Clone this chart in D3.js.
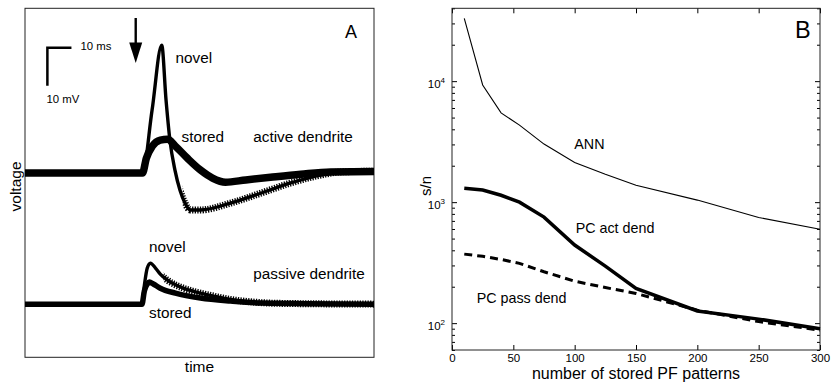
<!DOCTYPE html>
<html>
<head>
<meta charset="utf-8">
<script src="https://cdn.jsdelivr.net/npm/d3@7"></script>
<style>
  body { margin: 0; background: #fff; }
  svg text { font-family: "Liberation Sans", Arial, Helvetica, sans-serif; fill: #000; }
</style>
</head>
<body>
<svg id="chart" width="831" height="382"></svg>
<script>
// ---- panel A: voltage traces, [time ms, voltage mV] (passive traces recorded ~34.5 mV lower)
const activeNovel = [[0,0],[48.8,0],[52.8,16.6],[56.8,33.7],[58.6,19.2],[60.2,8.7],[62.3,0.8],[64.4,-4.5],
  [66.5,-7.9],[68.6,-9.7],[72.9,-9.7],[85.4,-7.9],[97.9,-5.3],[110.4,-2.6],[120.8,-0.8],[131,0.3],[145,0.5]];
const activeStored = [[0,0],[48.8,0],[50.4,3.9],[52.9,7.1],[56.2,8.7],[59.2,8.9],[62.5,7.1],[67.5,3.9],
  [72.9,0.8],[77.9,-1.3],[83.3,-2.4],[91.7,-1.8],[102,-1.1],[114.6,-0.3],[127,0.3],[145,0.4]];
const passiveNovel = [[0,-34.5],[48.6,-34.5],[49.6,-29.5],[50.8,-25],[52.1,-23.7],[54.2,-25],[56.2,-26.6],
  [59.2,-28.2],[65.8,-30.3],[72.9,-31.6],[80,-32.6],[86.7,-33.4],[93.8,-33.9],[106,-34.3],[145,-34.5]];
const passiveStored = [[0,-34.5],[48.6,-34.5],[49.6,-31],[50.8,-29.2],[51.7,-28.7],[53.3,-29.2],[56.2,-30.3],
  [62.5,-31.6],[72.9,-32.9],[85.4,-33.7],[97.9,-34.2],[145,-34.5]];
const stimTime = 46;

// ---- panel B: signal-to-noise vs number of stored PF patterns
const patterns = [10, 25, 40, 55, 75, 100, 125, 150, 200, 250, 300];
const annSN = [33000, 9300, 5470, 4330, 3020, 2130, 1700, 1380, 1040, 746, 598];
const pcActSN = [1300, 1260, 1140, 1000, 752, 442, 296, 194, 126, 108, 90];
const pcPassSN = [372, 357, 336, 312, 266, 222, 197, 176, 128, 103, 87.5];
const xTicks = [0, 50, 100, 150, 200, 250, 300];
const yMajor = [100, 1000, 10000];

const svg = d3.select('#chart');
const defs = svg.append('defs');

// ===================== panel A =====================
const ax = d3.scaleLinear().domain([0, 145]).range([25, 374]);
const ay = d3.scaleLinear().domain([-48.5, 43.4]).range([357.3, 8.3]);
const gA = svg.append('g');

gA.append('rect')
  .attr('x', 25).attr('y', 8.3)
  .attr('width', 349).attr('height', 349)
  .attr('fill', 'none').attr('stroke', '#222').attr('stroke-width', 1);

const traceLine = d3.line().x(d => ax(d[0])).y(d => ay(d[1])).curve(d3.curveMonotoneX);

// the hatched look of the novel sweeps only shows where the decay is slow
function hatchClip(id, fromT) {
  defs.append('clipPath').attr('id', id)
    .append('rect').attr('x', ax(fromT)).attr('y', 0)
    .attr('width', ax(145) - ax(fromT)).attr('height', 382);
  return `url(#${id})`;
}

[[activeNovel, 65.5, 'clipAct'], [passiveNovel, 57.5, 'clipPass']].forEach(([tr, t0, id]) => {
  gA.append('path').datum(tr).attr('d', traceLine)
    .attr('fill', 'none').attr('stroke', '#000').attr('stroke-width', 3.4)
    .attr('stroke-linejoin', 'round');
  gA.append('path').datum(tr).attr('d', traceLine)
    .attr('clip-path', hatchClip(id, t0))
    .attr('fill', 'none').attr('stroke', '#000').attr('stroke-width', 7)
    .attr('stroke-dasharray', '1.3,1.3');
});
// stored traces: solid thick band
gA.append('path').datum(activeStored).attr('d', traceLine)
  .attr('fill', 'none').attr('stroke', '#000').attr('stroke-width', 7.5);
gA.append('path').datum(passiveStored).attr('d', traceLine)
  .attr('fill', 'none').attr('stroke', '#000').attr('stroke-width', 5.5);

// stimulus arrow
const arrowX = ax(stimTime);
gA.append('line')
  .attr('x1', arrowX).attr('x2', arrowX).attr('y1', 18).attr('y2', 46)
  .attr('stroke', '#000').attr('stroke-width', 2.4);
gA.append('path')
  .attr('d', `M${arrowX - 6.5},42.5 L${arrowX + 6.5},42.5 L${arrowX},63 Z`)
  .attr('fill', '#000');

// scale bar 10 ms / 10 mV
const sbT = 9.3, sbV = 33;
gA.append('path')
  .attr('d', `M${ax(sbT + 10)},${ay(sbV)} L${ax(sbT)},${ay(sbV)} L${ax(sbT)},${ay(sbV - 10)}`)
  .attr('fill', 'none').attr('stroke', '#000').attr('stroke-width', 2.5);
gA.append('text').attr('x', 80.5).attr('y', 49.5).attr('font-size', 11.4).text('10 ms');
gA.append('text').attr('x', 46.5).attr('y', 103).attr('font-size', 11.4).text('10 mV');

// labels
const labA = [
  ['novel', 175.5, 63], ['stored', 181.5, 141.7], ['active dendrite', 253.3, 141.7],
  ['novel', 149, 252], ['passive dendrite', 253.3, 278.7], ['stored', 149, 318]
];
labA.forEach(([t, x, y]) => gA.append('text').attr('x', x).attr('y', y).attr('font-size', 15.3).text(t));
gA.append('text').attr('x', 345).attr('y', 37.7).attr('font-size', 18).text('A');
gA.append('text').attr('x', 199.5).attr('y', 372).attr('text-anchor', 'middle').attr('font-size', 15.5).text('time');
gA.append('text').attr('transform', 'translate(20.5,186.5) rotate(-90)')
  .attr('text-anchor', 'middle').attr('font-size', 15.5).text('voltage');

// ===================== panel B =====================
const bx = d3.scaleLinear().domain([0, 300]).range([452, 820]);
const by = d3.scaleLog().domain([60, 40000]).range([350, 8.3]);
const gB = svg.append('g');

const yMinor = [];
[10, 100, 1000, 10000].forEach(dec => {
  for (let k = 2; k <= 9; k++) {
    const v = dec * k;
    if (v >= 60 && v <= 40000 && !yMajor.includes(v)) yMinor.push(v);
  }
});

function styleAxis(g) {
  g.select('.domain').remove();
  g.selectAll('.tick line').attr('stroke', '#000');
}

gB.append('g').attr('transform', 'translate(0,350)')
  .call(d3.axisBottom(bx).tickValues(xTicks).tickSizeInner(-5).tickSizeOuter(0).tickPadding(4))
  .call(styleAxis)
  .selectAll('text').attr('font-size', 11.5);
gB.append('g').attr('transform', 'translate(0,8.3)')
  .call(d3.axisTop(bx).tickValues(xTicks).tickSizeInner(-5).tickSizeOuter(0).tickFormat(''))
  .call(styleAxis);

const leftMajor = gB.append('g').attr('transform', 'translate(452,0)')
  .call(d3.axisLeft(by).tickValues(yMajor).tickSizeInner(-5).tickSizeOuter(0).tickPadding(7))
  .call(styleAxis);
leftMajor.selectAll('.tick text')
  .attr('font-size', 11.5).attr('dy', '0.55em').text(null)
  .each(function (d) {
    const t = d3.select(this);
    t.append('tspan').text('10');
    t.append('tspan').attr('dy', '-0.6em').attr('font-size', 8).text(Math.round(Math.log10(d)));
  });
gB.append('g').attr('transform', 'translate(452,0)')
  .call(d3.axisLeft(by).tickValues(yMinor).tickSizeInner(-3).tickSizeOuter(0).tickFormat(''))
  .call(styleAxis);
gB.append('g').attr('transform', 'translate(820,0)')
  .call(d3.axisRight(by).tickValues(yMajor).tickSizeInner(-5).tickSizeOuter(0).tickFormat(''))
  .call(styleAxis);
gB.append('g').attr('transform', 'translate(820,0)')
  .call(d3.axisRight(by).tickValues(yMinor).tickSizeInner(-3).tickSizeOuter(0).tickFormat(''))
  .call(styleAxis);

gB.append('rect')
  .attr('x', 452).attr('y', 8.3).attr('width', 368).attr('height', 341.7)
  .attr('fill', 'none').attr('stroke', '#222').attr('stroke-width', 1);

const snLine = vals => d3.line().x((d, i) => bx(patterns[i])).y(d => by(d))(vals);

gB.append('path').attr('d', snLine(annSN))
  .attr('fill', 'none').attr('stroke', '#000').attr('stroke-width', 1.1);
gB.append('path').attr('d', snLine(pcPassSN))
  .attr('fill', 'none').attr('stroke', '#000').attr('stroke-width', 3)
  .attr('stroke-dasharray', '8,5');
gB.append('path').attr('d', snLine(pcActSN))
  .attr('fill', 'none').attr('stroke', '#000').attr('stroke-width', 3.5);

gB.append('text').attr('x', 574.3).attr('y', 149.3).attr('font-size', 14.3).text('ANN');
gB.append('text').attr('x', 575.7).attr('y', 233.3).attr('font-size', 14.3).text('PC act dend');
gB.append('text').attr('x', 476.7).attr('y', 303.3).attr('font-size', 14.3).text('PC pass dend');
gB.append('text').attr('x', 795).attr('y', 37.5).attr('font-size', 23.5).text('B');
gB.append('text').attr('x', 636).attr('y', 379).attr('text-anchor', 'middle')
  .attr('font-size', 16).text('number of stored PF patterns');
gB.append('text').attr('transform', 'translate(431,186) rotate(-90)')
  .attr('text-anchor', 'middle').attr('font-size', 15).text('s/n');
</script>
</body>
</html>
